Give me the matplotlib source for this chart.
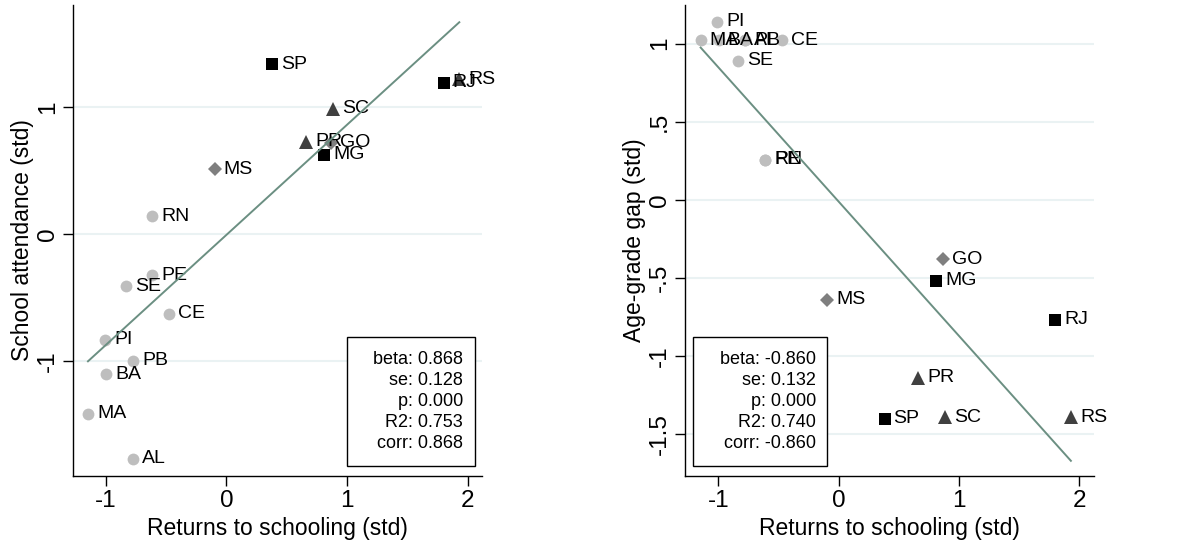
import matplotlib
matplotlib.use("Agg")
import matplotlib.pyplot as plt
import numpy as np

plt.rcParams['font.family'] = ['Liberation Sans', 'DejaVu Sans']

# ---------------- data ----------------
states = ['AL', 'BA', 'CE', 'MA', 'PB', 'PE', 'PI', 'RN', 'SE',
          'GO', 'MS', 'MG', 'RJ', 'SP', 'PR', 'RS', 'SC']
region = ['NE', 'NE', 'NE', 'NE', 'NE', 'NE', 'NE', 'NE', 'NE',
          'CW', 'CW', 'SE', 'SE', 'SE', 'S', 'S', 'S']
returns = [-0.774, -0.997, -0.474, -1.146, -0.774, -0.612, -1.006, -0.612, -0.832,
           0.87, -0.095, 0.81, 1.80, 0.382, 0.661, 1.93, 0.883]
attendance = [-1.769, -1.102, -0.627, -1.412, -0.997, -0.323, -0.829, 0.142, -0.407,
              0.72, 0.514, 0.625, 1.194, 1.339, 0.730, 1.223, 0.990]
agegap = [1.02, 1.02, 1.02, 1.02, 1.02, 0.255, 1.141, 0.255, 0.889,
          -0.380, -0.641, -0.517, -0.769, -1.401, -1.139, -1.391, -1.391]

fit_left = {'beta': 0.868, 'intercept': -0.005}
fit_right = {'beta': -0.860, 'intercept': -0.011}
stats_left = ['beta: 0.868', 'se: 0.128', 'p: 0.000', 'R2: 0.753', 'corr: 0.868']
stats_right = ['beta: -0.860', 'se: 0.132', 'p: 0.000', 'R2: 0.740', 'corr: -0.860']

xlabel = 'Returns to schooling (std)'
ylabel_left = 'School attendance (std)'
ylabel_right = 'Age-grade gap (std)'
xticks = [-1, 0, 1, 2]
yticks_left = [-1, 0, 1]
yticks_right = [-1.5, -1, -0.5, 0, 0.5, 1]
yticklabels_right = ['-1.5', '-1', '-.5', '0', '.5', '1']

# ---------------- styles ----------------
style = {
    'NE': dict(marker='o', color='#BEBEBE', ms=8.5),
    'CW': dict(marker='D', color='#7F7F7F', ms=7.5),
    'SE': dict(marker='s', color='#000000', ms=9),
    'S':  dict(marker='^', color='#404040', ms=10),
}
LINE_COLOR = '#6B8F82'
GRID_COLOR = '#EAF2F3'

fig = plt.figure(figsize=(11.77, 5.5), dpi=100)
axL = fig.add_axes([73/1177, 1-476/550, 409/1177, 471/550])
axR = fig.add_axes([685/1177, 1-476/550, 409/1177, 471/550])


def panel(ax, yvals, fit, stats, ylabel, yticks, yticklabels, xlim, ylim, box, text_x):
    x = np.array(returns)
    y = np.array(yvals)
    ax.set_xlim(*xlim)
    ax.set_ylim(*ylim)
    for yt in yticks:
        ax.axhline(yt, color=GRID_COLOR, lw=1.5, zorder=0)
    for i, s in enumerate(states):
        st = style[region[i]]
        ax.plot(x[i], y[i], linestyle='none', marker=st['marker'], color=st['color'],
                markersize=st['ms'], markeredgewidth=0, zorder=2)
        ax.annotate(s, (x[i], y[i]), xytext=(6.5, 0), textcoords='offset points',
                    ha='left', va='center', fontsize=14, color='black', zorder=3)
    xs = np.array([x.min(), x.max()])
    ax.plot(xs, fit['intercept'] + fit['beta'] * xs, color=LINE_COLOR, lw=1.4, zorder=4)

    ax.spines['top'].set_visible(False)
    ax.spines['right'].set_visible(False)
    ax.spines['left'].set_linewidth(1.0)
    ax.spines['bottom'].set_linewidth(1.0)
    ax.set_xticks(xticks)
    ax.set_xticklabels([str(t) for t in xticks], fontsize=17.5)
    ax.set_yticks(yticks)
    ax.set_yticklabels(yticklabels, fontsize=17.5, rotation=90, va='center')
    ax.tick_params(direction='out', length=7, width=1.0, pad=3)
    ax.set_xlabel(xlabel, fontsize=16.5, labelpad=4)
    ax.set_ylabel(ylabel, fontsize=16.5, labelpad=2)

    # stats box
    bx0, by0, bx1, by1 = box
    rect = plt.Rectangle((bx0, by0), bx1 - bx0, by1 - by0, transform=ax.transAxes,
                         fill=True, facecolor='white', edgecolor='black', lw=1.0, zorder=5)
    ax.add_patch(rect)
    ax.text(text_x, (by0 + by1) / 2, '\n'.join(stats), transform=ax.transAxes,
            ha='right', va='center', fontsize=13, linespacing=1.3, zorder=6)


panel(axL, attendance, fit_left, stats_left, ylabel_left, yticks_left,
      [str(t) for t in yticks_left], (-1.27, 2.118), (-1.903, 1.806),
      (0.670, 0.021, 0.983, 0.296), 0.954)
panel(axR, agegap, fit_right, stats_right, ylabel_right, yticks_right,
      yticklabels_right, (-1.276, 2.122), (-1.768, 1.247),
      (0.019, 0.021, 0.348, 0.295), 0.320)

fig.savefig('out.png', dpi=100)
